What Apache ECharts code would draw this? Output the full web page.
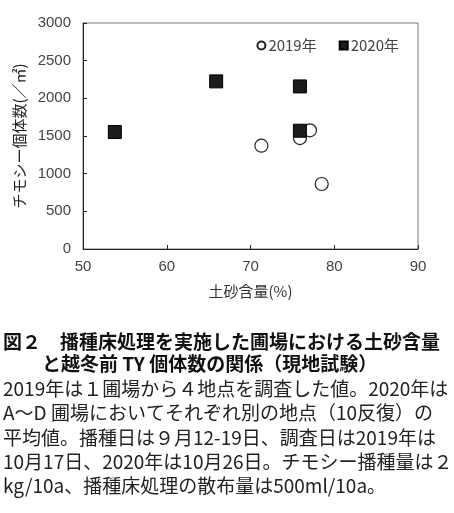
<!DOCTYPE html>
<html>
<head>
<meta charset="utf-8">
<script src="https://cdn.jsdelivr.net/npm/echarts@6/dist/echarts.min.js"></script>
<style>
html,body{margin:0;padding:0;background:#fff;}
#chart{width:454px;height:513px;}
</style>
</head>
<body>
<div id="chart"></div>
<script>
// ---- data ----
var series2019Name = '2019年';
var series2020Name = '2020年';
var sand2019 = [71.3, 75.9, 77.1, 78.5];
var count2019 = [1371, 1473, 1575, 863];
var sand2020 = [53.8, 65.9, 75.9, 75.9];
var count2020 = [1553, 2225, 2158, 1570];
var xTicks = [50, 60, 70, 80, 90];
var yTicks = [0, 500, 1000, 1500, 2000, 2500, 3000];
var xAxisTitle = '土砂含量(%)';
var yAxisTitle = 'チモシー個体数(／㎡)';
var captionTitle = [
  '図２　播種床処理を実施した圃場における土砂含量',
  'と越冬前 TY 個体数の関係（現地試験）'
];
var captionBody = [
  '2019年は１圃場から４地点を調査した値。2020年は',
  'A～D 圃場においてそれぞれ別の地点（10反復）の',
  '平均値。播種日は９月12-19日、調査日は2019年は',
  '10月17日、2020年は10月26日。チモシー播種量は２',
  'kg/10a、播種床処理の散布量は500ml/10a。'
];

function zip(xs, ys) { return xs.map(function (x, i) { return [x, ys[i]]; }); }

var tickFont = 'Liberation Sans, Arial, sans-serif';
var jpFont = '"Noto Sans CJK JP", sans-serif';

var graphics = [];
var titleY = [342, 364];
var titleX = [3, 42];
captionTitle.forEach(function (t, i) {
  graphics.push({
    type: 'text', x: titleX[i], y: titleY[i],
    style: { text: t, fontSize: 19, fontWeight: 'bold', fontFamily: jpFont, fill: '#111',
             align: 'left', verticalAlign: 'middle' }
  });
});
var bodyY = [389, 413, 437.5, 461.5, 486];
captionBody.forEach(function (t, i) {
  graphics.push({
    type: 'text', x: 3, y: bodyY[i],
    style: { text: t, fontSize: 19, fontFamily: jpFont, fill: '#222',
             align: 'left', verticalAlign: 'middle' }
  });
});

var chart = echarts.init(document.getElementById('chart'), null, { renderer: 'canvas' });
chart.setOption({
  animation: false,
  backgroundColor: '#fff',
  grid: { left: 83, right: 36, top: 23, bottom: 264, show: true, borderColor: '#777', borderWidth: 1 },
  legend: {
    data: [series2019Name, series2020Name],
    right: 50, top: 33,
    itemWidth: 8, itemHeight: 8, itemGap: 22,
    textStyle: { fontSize: 15, color: '#444', fontFamily: jpFont, padding: [0, 0, 0, -2] }
  },
  xAxis: {
    type: 'value', min: xTicks[0], max: xTicks[xTicks.length - 1], interval: 10,
    name: xAxisTitle, nameLocation: 'middle', nameGap: 35,
    nameTextStyle: { fontSize: 15, color: '#333', fontFamily: jpFont },
    axisLine: { lineStyle: { color: '#222', width: 1 } },
    axisTick: { inside: true, length: 4, lineStyle: { color: '#222' } },
    axisLabel: { fontSize: 15, color: '#444', fontFamily: tickFont, margin: 10 },
    splitLine: { show: false }
  },
  yAxis: {
    type: 'value', min: yTicks[0], max: yTicks[yTicks.length - 1], interval: 500,
    name: yAxisTitle, nameLocation: 'middle', nameGap: 56, nameRotate: 90,
    nameTextStyle: { fontSize: 15, color: '#222', fontFamily: jpFont },
    axisLine: { show: true, lineStyle: { color: '#222', width: 1 } },
    axisTick: { show: true, inside: true, length: 4, lineStyle: { color: '#222' } },
    axisLabel: { fontSize: 15, color: '#444', fontFamily: tickFont, margin: 12,
                 formatter: function (v) { return String(v); } },
    splitLine: { show: false }
  },
  series: [
    {
      name: series2019Name, type: 'scatter', data: zip(sand2019, count2019),
      symbol: 'circle', symbolSize: 13, z: 2,
      itemStyle: { color: '#fff', borderColor: '#222', borderWidth: 1.2, opacity: 1 }
    },
    {
      name: series2020Name, type: 'scatter', data: zip(sand2020, count2020),
      symbol: 'rect', symbolSize: 13, z: 3,
      itemStyle: { color: '#1c1c1c', borderColor: '#000', borderWidth: 1, opacity: 1 }
    }
  ],
  graphic: graphics
});
</script>
</body>
</html>
